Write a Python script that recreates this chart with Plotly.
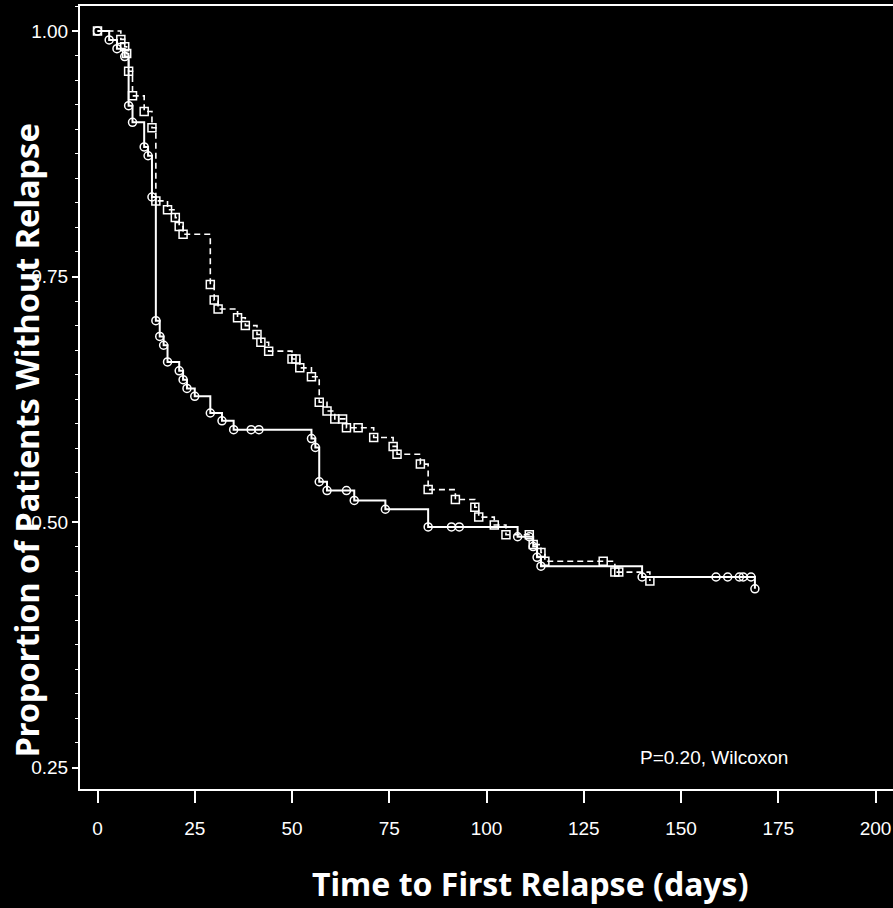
import plotly.graph_objects as go

# Solid curve (circle markers): time in days, proportion without relapse
solid_days = [0, 3, 5, 7, 8, 9, 12, 13, 14, 15, 16, 17, 18, 21, 22, 23, 25, 29, 32, 35,
              39.5, 41.5, 55, 56, 57, 59, 64, 66, 74, 85, 91, 93, 108, 111, 112, 113, 114,
              140, 159, 162, 165, 166, 168, 169]
solid_surv = [1.0, 0.991, 0.982, 0.974, 0.924, 0.907, 0.882, 0.873, 0.831, 0.705, 0.689, 0.680,
              0.663, 0.654, 0.645, 0.636, 0.628, 0.611, 0.603, 0.594,
              0.594, 0.594, 0.585, 0.576, 0.541, 0.532, 0.532, 0.522, 0.513, 0.495, 0.495, 0.495,
              0.485, 0.485, 0.475, 0.464, 0.455,
              0.444, 0.444, 0.444, 0.444, 0.444, 0.444, 0.432]

# Dashed curve (square markers)
dashed_days = [0, 6, 7, 7.5, 8, 9, 12, 14, 15, 18, 20, 21, 22, 29, 30, 31, 36, 38, 41, 42, 44,
               50, 51, 52, 55, 57, 59, 61, 63, 64, 67, 71, 76, 77, 83, 85, 92, 97, 98, 102, 105,
               111, 112, 114, 115, 130, 133, 134, 142]
dashed_surv = [1.0, 0.9915, 0.984, 0.977, 0.959, 0.934, 0.918, 0.9015, 0.827, 0.818, 0.810, 0.801,
               0.793, 0.742, 0.726, 0.717, 0.708, 0.700, 0.691, 0.683, 0.674,
               0.666, 0.666, 0.657, 0.648, 0.622, 0.613, 0.605, 0.605, 0.596, 0.596, 0.586, 0.577,
               0.569, 0.559, 0.533, 0.523, 0.515, 0.505, 0.497, 0.487,
               0.487, 0.477, 0.469, 0.460, 0.460, 0.449, 0.449, 0.440]

x_ticks = [0, 25, 50, 75, 100, 125, 150, 175, 200]
y_ticks = [0.25, 0.50, 0.75, 1.00]

TICK_FONT = "Liberation Sans Narrow, Arial Narrow, Liberation Sans, sans-serif"
TITLE_FONT = "Noto Sans, DejaVu Sans, sans-serif"

fig = go.Figure()
fig.add_trace(go.Scatter(
    x=dashed_days, y=dashed_surv, mode="lines+markers", line_shape="hv",
    line=dict(color="white", width=1.6, dash="6px,4px"),
    marker=dict(symbol="square-open", size=8, color="white", line=dict(width=1.5, color="white")),
    showlegend=False, hoverinfo="skip"))
fig.add_trace(go.Scatter(
    x=solid_days, y=solid_surv, mode="lines+markers", line_shape="hv",
    line=dict(color="white", width=2),
    marker=dict(symbol="circle-open", size=8, color="white", line=dict(width=1.5, color="white")),
    showlegend=False, hoverinfo="skip"))

fig.update_layout(
    width=893, height=908,
    margin=dict(l=80, r=0, t=6, b=119),
    paper_bgcolor="black", plot_bgcolor="black",
    showlegend=False,
    xaxis=dict(range=[-4.5, 204.5], tickvals=x_ticks, ticktext=[str(v) for v in x_ticks],
               showgrid=False, zeroline=False, showline=True, linecolor="white", linewidth=2,
               mirror=True, ticks="outside", ticklen=12, tickwidth=1.5, tickcolor="white",
               ticklabelstandoff=9, ticklabeloverflow="allow",
               tickfont=dict(family=TICK_FONT, size=19, color="white")),
    yaxis=dict(range=[0.2281, 1.0255], tickvals=y_ticks, ticktext=["0.25", "0.50", "0.75", "1.00"],
               showgrid=False, zeroline=False, showline=True, linecolor="white", linewidth=2,
               ticks="outside", ticklen=6, tickwidth=1.5, tickcolor="white",
               minor=dict(dtick=0.025, tick0=0.25, ticks="outside", ticklen=3, tickwidth=1,
                          tickcolor="white", showgrid=False),
               tickfont=dict(family=TICK_FONT, size=19, color="white")),
    annotations=[
        dict(text="<b>Time to First Relapse (days)</b>", xref="paper", yref="paper",
             x=0.5547, y=-0.121, xanchor="center", yanchor="middle", showarrow=False,
             font=dict(family=TITLE_FONT, size=32, color="white")),
        dict(text="<b>Proportion of Patients Without Relapse</b>", xref="paper", yref="paper",
             x=-0.066, y=0.4457, xanchor="center", yanchor="middle", textangle=-90, showarrow=False,
             font=dict(family=TITLE_FONT, size=32.5, color="white")),
        dict(text="P=0.20, Wilcoxon", xref="x", yref="y", x=138.9, y=0.2597,
             xanchor="left", yanchor="middle", showarrow=False,
             font=dict(family=TICK_FONT, size=19, color="white")),
    ],
)

fig.write_html("out.html", config={"displayModeBar": False},
               post_script="document.body.style.margin='0';document.body.style.background='black';")
